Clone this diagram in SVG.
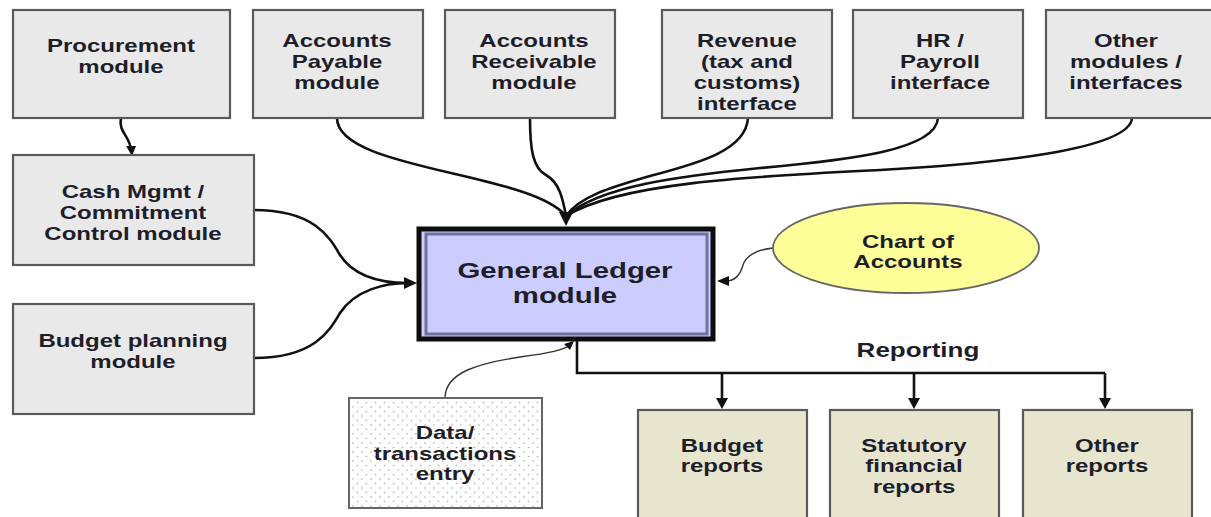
<svg xmlns="http://www.w3.org/2000/svg" width="1211" height="517" viewBox="0 0 1211 517">
<defs>
<style>
.box{fill:#e9e9e9;stroke:#5a5a5a;stroke-width:2.2}
.rep{fill:#e8e5cf;stroke:#5a5a5a;stroke-width:2.2}
.t{font-family:"Liberation Sans",Arial,sans-serif;font-weight:bold;font-size:18px;fill:#1e1e2a;text-anchor:middle}
.c{fill:none;stroke:#111;stroke-width:2.6}
.thin{fill:none;stroke:#333;stroke-width:1.4}
.ah{fill:#111}
</style>
<pattern id="dots" width="9" height="9" patternUnits="userSpaceOnUse">
<rect width="9" height="9" fill="#ffffff"/>
<circle cx="2" cy="2" r="0.8" fill="#a8a8a8"/>
<circle cx="6.5" cy="6.5" r="0.8" fill="#a8a8a8"/>
</pattern>
</defs>
<rect width="1211" height="517" fill="#ffffff"/>

<g id="connectors">
<path class="c" d="M121,118 C118,132 130,136 131,150"/>
<polygon class="ah" points="126,146 136,146 132,156"/>
<path class="c" d="M337,118 C337,170 530,172 566,216"/>
<path class="c" d="M530,118 C530,150 533,168 546,175 C560,183 563,200 566,216"/>
<path class="c" d="M748,118 C746,150 700,163 650,176 C612,187 580,196 566,216"/>
<path class="c" d="M938,118 C936,150 850,160 760,168 C680,176 600,186 566,216"/>
<path class="c" d="M1132,118 C1130,150 990,164 880,170 C760,176 620,182 566,216"/>
<polygon class="ah" points="559,212 573,212 566,226"/>
<path class="c" d="M254,210 C315,210 330,238 340,255 C355,278 385,283 408,283"/>
<path class="c" d="M254,358 C315,358 330,330 340,313 C355,290 385,283 408,283"/>
<polygon class="ah" points="404,277 417,283 404,289"/>
<path class="thin" d="M773,248 C756,250 746,256 743,265 C740,276 734,281 726,281"/>
<polygon class="ah" points="729,276 717,281 729,286"/>
<path class="thin" d="M445,398 C445,372 480,363 520,357 C550,353 564,350 570,345"/>
<polygon class="ah" points="564,344 574,341 570,350"/>
<path class="c" d="M577,341 V373 H1105"/>
<path class="c" d="M722,373 V402 M914,373 V402 M1105,373 V402"/>
<polygon class="ah" points="716,398 728,398 722,409"/>
<polygon class="ah" points="908,398 920,398 914,409"/>
<polygon class="ah" points="1099,398 1111,398 1105,409"/>
</g>

<g id="procurement">
<rect class="box" x="13" y="10" width="217" height="108"/>
<text class="t" transform="scale(1.3333 1)" x="90.75" y="52">Procurement<tspan x="90.75" y="73">module</tspan></text>
</g>
<g id="accounts-payable">
<rect class="box" x="253" y="10" width="170" height="108"/>
<text class="t" transform="scale(1.3333 1)" x="252.75" y="47">Accounts<tspan x="252.75" y="68">Payable</tspan><tspan x="252.75" y="89">module</tspan></text>
</g>
<g id="accounts-receivable">
<rect class="box" x="445" y="10" width="170" height="108"/>
<text class="t" transform="scale(1.3333 1)" x="400.5" y="47">Accounts<tspan x="400.5" y="68">Receivable</tspan><tspan x="400.5" y="89">module</tspan></text>
</g>
<g id="revenue">
<rect class="box" x="662" y="10" width="170" height="108"/>
<text class="t" transform="scale(1.3333 1)" x="560.25" y="47">Revenue<tspan x="560.25" y="68">(tax and</tspan><tspan x="560.25" y="89">customs)</tspan><tspan x="560.25" y="110">interface</tspan></text>
</g>
<g id="hr-payroll">
<rect class="box" x="853" y="10" width="170" height="108"/>
<text class="t" transform="scale(1.3333 1)" x="705" y="47">HR /<tspan x="705" y="68">Payroll</tspan><tspan x="705" y="89">interface</tspan></text>
</g>
<g id="other-modules">
<rect class="box" x="1046" y="10" width="170" height="108"/>
<text class="t" transform="scale(1.3333 1)" x="844.5" y="47">Other<tspan x="844.5" y="68">modules /</tspan><tspan x="844.5" y="89">interfaces</tspan></text>
</g>
<g id="cash-mgmt">
<rect class="box" x="13" y="155" width="241" height="110"/>
<text class="t" transform="scale(1.3333 1)" x="99.75" y="198">Cash Mgmt /<tspan x="99.75" y="219">Commitment</tspan><tspan x="99.75" y="240">Control module</tspan></text>
</g>
<g id="budget-planning">
<rect class="box" x="13" y="304" width="241" height="110"/>
<text class="t" transform="scale(1.3333 1)" x="99.75" y="347">Budget planning<tspan x="99.75" y="368">module</tspan></text>
</g>
<g id="general-ledger">
<rect x="419" y="229" width="294" height="110" fill="#ccccff" stroke="#0d0d0d" stroke-width="5"/>
<rect x="426" y="234" width="281" height="100" fill="none" stroke="#72729e" stroke-width="3"/>
<text class="t" style="font-size:22px" transform="scale(1.3333 1)" x="423.75" y="278">General Ledger<tspan x="423.75" y="303">module</tspan></text>
</g>
<g id="chart-of-accounts">
<ellipse cx="906" cy="248" rx="133" ry="45" fill="#ffff99" stroke="#666666" stroke-width="1.8"/>
<text class="t" transform="scale(1.3333 1)" x="681" y="248">Chart of<tspan x="681" y="268">Accounts</tspan></text>
</g>
<g id="reporting-label">
<text class="t" style="font-size:19.5px" transform="scale(1.3333 1)" x="688.5" y="357">Reporting</text>
</g>
<g id="data-entry">
<rect x="349" y="398" width="193" height="110" fill="url(#dots)" stroke="#666666" stroke-width="2"/>
<text class="t" transform="scale(1.3333 1)" x="333.75" y="439">Data/<tspan x="333.75" y="460">transactions</tspan><tspan x="333.75" y="480">entry</tspan></text>
</g>
<g id="budget-reports">
<rect class="rep" x="638" y="410" width="169" height="120"/>
<text class="t" transform="scale(1.3333 1)" x="541.5" y="452">Budget<tspan x="541.5" y="472">reports</tspan></text>
</g>
<g id="statutory-reports">
<rect class="rep" x="830" y="410" width="169" height="120"/>
<text class="t" transform="scale(1.3333 1)" x="685.5" y="452">Statutory<tspan x="685.5" y="472">financial</tspan><tspan x="685.5" y="493">reports</tspan></text>
</g>
<g id="other-reports">
<rect class="rep" x="1023" y="410" width="169" height="120"/>
<text class="t" transform="scale(1.3333 1)" x="830.25" y="452">Other<tspan x="830.25" y="472">reports</tspan></text>
</g>
</svg>
